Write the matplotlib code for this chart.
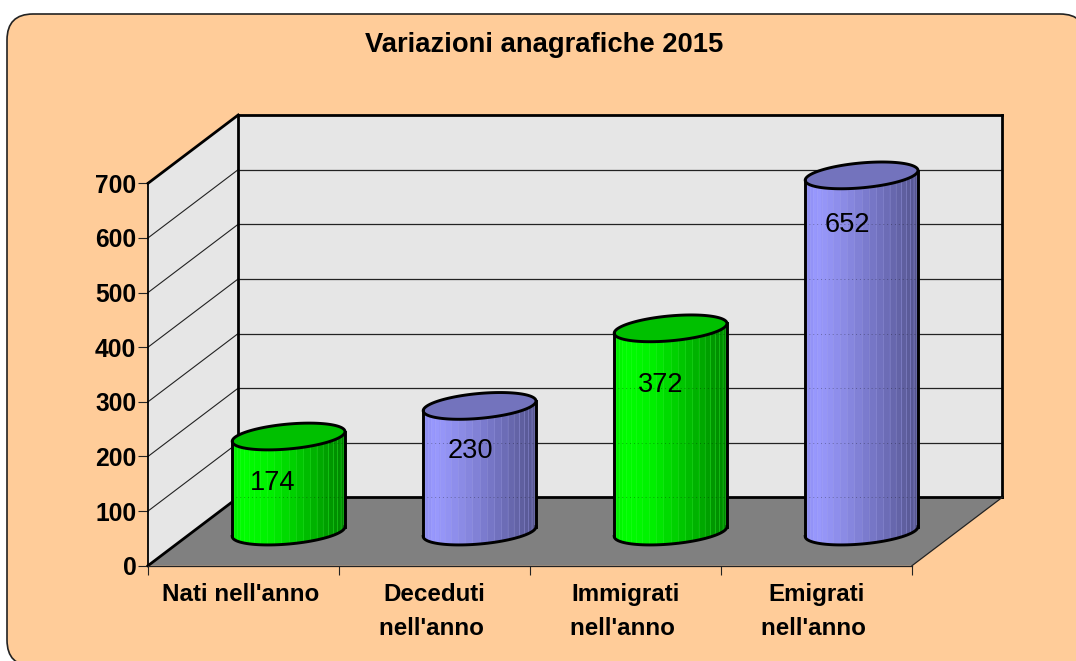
import numpy as np
import matplotlib
matplotlib.use("Agg")
import matplotlib.pyplot as plt
from matplotlib.patches import Polygon, FancyBboxPatch

categories = ["Nati nell'anno ", "Deceduti\nnell'anno ", "Immigrati\nnell'anno ", "Emigrati\nnell'anno "]
values = [174, 230, 372, 652]
y_ticks = [0, 100, 200, 300, 400, 500, 600, 700]
title = "Variazioni anagrafiche 2015"

W, H = 1076, 661
FONT = "Liberation Sans"
plt.rcParams["font.family"] = [FONT, "DejaVu Sans"]

fig = plt.figure(figsize=(W / 100, H / 100), dpi=100, facecolor="white")

# Rounded chart frame (figure pixels); it runs past the right and bottom of the canvas
frame = fig.add_axes([0, 0, 1, 1], zorder=0)
frame.set_xlim(0, W); frame.set_ylim(H, 0); frame.axis("off")
frame.add_patch(FancyBboxPatch((7 + 26, 14 + 26), 1079 - 52, 652 - 52,
                               boxstyle="round,pad=26,rounding_size=26",
                               fc="#FFCC99", ec="#222222", lw=1.2, clip_on=True))

# Front plane of the 3D box
L, R, B, T = 148.0, 912.0, 565.7, 183.3
ax = fig.add_axes([L / W, 1 - B / H, (R - L) / W, (B - T) / H], zorder=1)
ax.patch.set_visible(False)
ax.set_xlim(0, len(categories))
ax.set_ylim(0, 700)

px_x = len(categories) / (R - L)     # data units per pixel
px_y = 700 / (B - T)
DX, DY = 90.2 * px_x, 68.3 * px_y    # full-depth offset in data units


def proj(x, y, d=0.0):
    return (x + d * DX, y + d * DY)


n = len(categories)
top = y_ticks[-1]
walls = dict(fc="#E6E6E6", ec="none", clip_on=False, zorder=1)
ax.add_patch(Polygon([proj(0, 0, 1), proj(n, 0, 1), proj(n, top, 1), proj(0, top, 1)], **walls))
ax.add_patch(Polygon([proj(0, 0), proj(0, 0, 1), proj(0, top, 1), proj(0, top)], **walls))
ax.add_patch(Polygon([proj(0, 0), proj(n, 0), proj(n, 0, 1), proj(0, 0, 1)],
                     fc="#808080", ec="none", clip_on=False, zorder=1))


def seg(p, q, lw, color="black", z=2):
    ax.plot([p[0], q[0]], [p[1], q[1]], color=color, lw=lw, clip_on=False, zorder=z,
            solid_capstyle="projecting")


for v in y_ticks[1:-1]:
    seg(proj(0, v), proj(0, v, 1), 0.8, "#222222")
    seg(proj(0, v, 1), proj(n, v, 1), 0.9, "#222222")

heavy = 2.0
seg(proj(0, top), proj(0, top, 1), heavy)
seg(proj(0, top, 1), proj(n, top, 1), heavy)
seg(proj(n, top, 1), proj(n, 0, 1), heavy)
seg(proj(n, 0, 1), proj(0, 0, 1), heavy)
seg(proj(0, 0, 1), proj(0, top, 1), heavy)
seg(proj(0, 0), proj(0, 0, 1), heavy)
seg(proj(0, 0), proj(0, top), 1.3)
seg(proj(0, 0), proj(n, 0), 0.9, "#222222")
seg(proj(n, 0), proj(n, 0, 1), 0.9, "#222222")

# Cylinders
GREEN = [(0, (0, 235, 0)), (.1, (0, 255, 0)), (.35, (0, 238, 0)), (.65, (0, 190, 0)), (1, (0, 130, 0))]
BLUE = [(0, (140, 140, 240)), (.1, (153, 153, 255)), (.35, (138, 138, 228)), (.7, (110, 110, 185)), (1, (84, 84, 140))]
PALETTES = [(GREEN, "#00C000", "#55FF55"), (BLUE, "#7373BD", "#B0B0F0")]

A1, A2, B1, B2 = 56.3 * px_x, 3.0 * px_x, 4.2 * px_y, 12.7 * px_y   # ellipse axes
OUTLINE = 2.1


def ell(cx, cy, t):
    return cx + A1 * np.cos(t) + A2 * np.sin(t), cy + B1 * np.cos(t) + B2 * np.sin(t)


def grad(stops, u):
    xs = [s[0] for s in stops]
    return tuple(np.interp(u, xs, [s[1][k] for s in stops]) / 255 for k in range(3))


t0 = np.arctan2(A2, A1)
for i, val in enumerate(values):
    stops, cap, seam = PALETTES[i % 2]
    z = 3 + i
    cx, cy0 = proj(i + 0.5, 0, 0.5)
    cy1 = cy0 + val
    ts = np.linspace(np.pi + t0, 2 * np.pi + t0, 25)
    tf = np.linspace(ts[0], ts[-1], 121)
    bx, by = ell(cx, cy0, tf)
    ux, uy = ell(cx, cy1, tf)
    ax.add_patch(Polygon(np.c_[np.r_[bx, ux[::-1]], np.r_[by, uy[::-1]]], fc=grad(stops, .3), ec="none",
                         clip_on=False, zorder=z))
    for a, b in zip(ts[:-1], ts[1:]):
        tt = np.linspace(a, b, 8)
        x0, y0 = ell(cx, cy0, tt)
        x1, y1 = ell(cx, cy1, tt)
        u = (x0.mean() - (cx - A1)) / (2 * A1)
        ax.add_patch(Polygon(np.c_[np.r_[x0, x1[::-1]], np.r_[y0, y1[::-1]]], fc=grad(stops, u), ec="none",
                             lw=0, clip_on=False, zorder=z))
        sx, sy = ell(cx, cy0, np.array([a]))
        ax.plot([sx[0], sx[0]], [sy[0], sy[0] + val], color=seam, lw=0.5, alpha=0.3,
                clip_on=False, zorder=z)
    # back-wall lines faintly showing through the body
    for v in y_ticks[:-1]:
        gy = proj(0, v, 1)[1]
        if cy0 < gy < cy1:
            ax.plot([cx - A1, cx + A1], [gy, gy], color="black", lw=0.7, ls=(0, (1, 3)), alpha=0.3,
                    clip_on=False, zorder=z)
    tc = np.linspace(0, 2 * np.pi, 181)
    ex, ey = ell(cx, cy1, tc)
    ax.add_patch(Polygon(np.c_[ex, ey], fc=cap, ec="black", lw=OUTLINE, clip_on=False, zorder=z))
    ax.plot(bx, by, color="black", lw=OUTLINE, clip_on=False, zorder=z)
    for k in (0, -1):
        ax.plot([bx[k], ux[k]], [by[k], uy[k]], color="black", lw=OUTLINE, clip_on=False, zorder=z)

# Data labels, pixel nudges from the top of each cylinder
nudges = [(-16, -44), (-9, -42), (-10, -54), (-14, -47)]
for i, val in enumerate(values):
    cx, cy0 = proj(i + 0.5, 0, 0.5)
    ax.annotate(str(val), (cx, cy0 + val), xytext=(nudges[i][0] * .72, nudges[i][1] * .72),
                textcoords="offset points", ha="center", va="center_baseline", fontsize=19.6,
                color="black", zorder=20, annotation_clip=False)

# Axes furniture
for s in ax.spines.values():
    s.set_visible(False)
ax.set_yticks(y_ticks)
ax.set_yticklabels([str(v) for v in y_ticks], fontsize=17.7, fontweight="bold")
ax.tick_params(axis="y", length=7, width=0.8, color="#222222", pad=1.4)
ax.set_xticks(range(n + 1))
ax.set_xticklabels([])
ax.tick_params(axis="x", which="major", length=6.5, width=0.8, color="#222222")
ax.set_xticks(np.arange(n) + 0.5, minor=True)
ax.set_xticklabels(categories, minor=True, fontsize=17.4, fontweight="bold", linespacing=1.56)
ax.tick_params(axis="x", which="minor", length=0, pad=12.8)

fig.text(544 / W, 1 - 45 / H, title, ha="center", va="center", fontsize=19.7, fontweight="bold", color="black")

fig.savefig("out.png", dpi=100, facecolor="white")
